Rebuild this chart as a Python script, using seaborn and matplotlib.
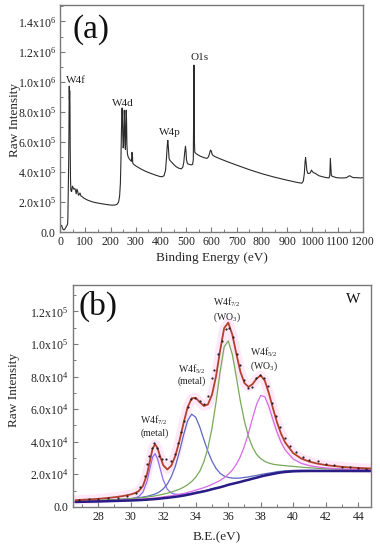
import numpy as np
import pandas as pd
import matplotlib
matplotlib.use("Agg")
import matplotlib.pyplot as plt
import seaborn as sns
from matplotlib.ticker import MultipleLocator, FuncFormatter

# ---------------- data: (a) survey spectrum ----------------
survey_be = [0, 3, 6, 9, 12, 16, 20, 24, 28, 30, 31, 32, 33, 34.5, 35.5, 36.5, 37.3, 38.3, 39.3, 40.3,
             41.5, 43, 46, 49, 52, 55, 58, 61, 64, 67, 70, 73, 76, 79, 83, 88, 95, 110, 130, 150,
             170, 190, 205, 218, 226, 232, 236, 239, 241, 243, 245, 246, 247, 248.5, 250, 251.5, 253, 254.5, 256, 257.5,
             259, 260.5, 262, 263.5, 265, 267, 270, 275, 280, 283, 285, 286.5, 288, 292, 300, 320, 340, 360, 380, 395,
             405, 412, 418, 422, 425, 427, 429, 432, 436, 442, 450, 460, 470, 480, 486, 490, 494, 497, 499, 501,
             505, 512, 520, 525, 528, 529.5, 530.5, 531.5, 532.5, 534, 537, 540, 545, 555, 570, 582, 588, 592, 596, 599,
             603, 610, 630, 660, 700, 750, 800, 850, 900, 940, 958, 964, 968, 971, 973, 975, 978, 982, 987, 992,
             996, 999, 1004, 1012, 1025, 1040, 1055, 1066, 1069, 1071, 1073, 1075, 1080, 1095, 1110, 1125, 1135, 1142, 1148, 1154,
             1162, 1175, 1190, 1200]
survey_int_1e5 = [0.30, 0.42, 0.45, 0.30, 0.18, 0.15, 0.22, 0.35, 0.45, 0.55, 0.9, 2.0, 3.2, 5.0, 8.0, 9.7, 8.8, 9.4, 8.6, 5.5,
                  3.5, 2.75, 2.7, 3.05, 2.95, 2.85, 2.9, 2.8, 2.55, 2.85, 2.7, 2.45, 2.5, 2.6, 2.4, 2.35, 2.25, 2.12, 2.0, 1.93,
                  1.87, 1.82, 1.79, 1.8, 1.85, 2.0, 2.4, 3.2, 4.5, 6.5, 8.0, 8.25, 7.8, 6.5, 5.6, 5.7, 6.8, 8.1, 7.4, 5.9,
                  5.5, 6.6, 8.1, 7.5, 5.8, 5.2, 5.0, 4.85, 4.75, 4.7, 5.3, 5.2, 4.6, 4.5, 4.4, 4.2, 4.03, 3.9, 3.78, 3.7,
                  3.68, 3.75, 4.1, 5.0, 5.8, 6.1, 5.7, 4.9, 4.75, 4.65, 4.5, 4.35, 4.25, 4.2, 4.3, 4.6, 5.3, 5.7, 5.4, 4.8,
                  4.55, 4.5, 4.47, 4.5, 4.8, 8.0, 11.1, 9.5, 6.0, 5.3, 5.25, 5.2, 5.15, 5.05, 4.95, 4.9, 5.0, 5.2, 5.45, 5.4,
                  5.15, 5.05, 4.9, 4.7, 4.45, 4.15, 3.88, 3.65, 3.45, 3.3, 3.25, 3.4, 3.9, 4.7, 4.95, 4.6, 4.1, 3.9, 3.9, 3.95,
                  4.12, 4.05, 3.95, 3.9, 3.75, 3.68, 3.62, 3.6, 3.8, 4.9, 4.3, 3.75, 3.7, 3.62, 3.6, 3.6, 3.62, 3.7, 3.75, 3.68,
                  3.62, 3.62, 3.6, 3.62]
survey_labels = ["W4f", "W4d", "W4p", "O1s"]
survey_label_be = [62, 248, 437, 553]
survey_label_int = [1.01e6, 8.58e5, 6.62e5, 1.158e6]

# ---------------- data: (b) W4f high-resolution fit ----------------
be = [26.6, 27, 27.5, 28, 28.5, 29, 29.5, 30, 30.25, 30.5, 30.75, 31, 31.2, 31.35, 31.5, 31.65, 31.8,
      32, 32.25, 32.5, 32.75, 33, 33.25, 33.5, 33.75, 34, 34.25, 34.5, 34.75, 35, 35.25, 35.5, 35.75,
      36, 36.25, 36.5, 36.75, 37, 37.25, 37.5, 37.75, 38, 38.25, 38.5, 38.75, 39, 39.25, 39.5,
      40, 40.5, 41, 41.5, 42, 42.5, 43, 43.5, 44, 44.8]
background = [3000, 3100, 3200, 3300, 3450, 3600, 3750, 3900, 4000, 4100, 4250, 4400, 4550, 4650, 4750, 4900, 5050,
              5300, 5550, 5850, 6150, 6500, 6900, 7400, 7900, 8500, 9000, 9500, 10100, 10800, 11400, 12000, 12700,
              13500, 14100, 14700, 15300, 16000, 16600, 17300, 17900, 18600, 19200, 19700, 20200, 20700, 21100, 21400,
              21800, 21950, 22000, 22000, 22000, 22000, 22000, 22000, 22000, 22000]
metal_72 = [94, 112, 141, 182, 252, 356, 560, 969, 1380, 2270, 4790, 11260, 19820, 25990, 27890, 24600, 18750,
            11190, 5250, 2600, 1600, 1130, 840, 660, 525, 430, 357, 302, 259, 224, 196, 172, 153,
            137, 124, 111, 101, 92, 84, 78, 72, 66, 61, 57, 53, 50, 47, 44,
            39, 35, 31, 28, 25, 23, 21, 19, 18, 15]
metal_52 = [327, 367, 428, 503, 600, 729, 904, 1150, 1310, 1505, 1750, 2060, 2400, 2730, 3110, 3660, 4370,
            5730, 8410, 12690, 18890, 27500, 37200, 45500, 49000, 46500, 40000, 31800, 23900, 17300, 12200, 8600, 6170,
            4580, 3550, 2870, 2400, 2040, 1775, 1560, 1380, 1233, 1107, 997, 904, 823, 752, 691,
            588, 506, 440, 386, 342, 305, 273, 246, 222, 191]
wo3_72 = [454, 498, 561, 630, 717, 822, 953, 1120, 1215, 1326, 1458, 1602, 1738, 1850, 1975, 2118, 2261,
          2492, 2822, 3231, 3738, 4352, 5135, 6168, 7636, 9700, 12900, 18070, 25990, 37470, 52870, 70930, 85530,
          88380, 79570, 64880, 49480, 36490, 26430, 19220, 14240, 10990, 8720, 7150, 5990, 5100, 4420, 3860,
          3020, 2420, 1980, 1645, 1397, 1196, 1034, 905, 798, 660]
wo3_52 = [235, 252, 277, 302, 337, 372, 417, 469, 497, 532, 567, 610, 645, 672, 705, 735, 770,
          820, 890, 970, 1060, 1166, 1282, 1418, 1578, 1771, 2002, 2268, 2606, 3000, 3530, 4210, 5160,
          6510, 8460, 11410, 15610, 21360, 28730, 37210, 45210, 49750, 48400, 41920, 33430, 25280, 18610, 13580,
          7510, 4700, 3280, 2450, 1890, 1510, 1230, 1015, 858, 670]
raw_be = [26.8, 27.4, 28.0, 28.6, 29.2, 29.8, 30.3, 30.6, 30.85, 31.0, 31.15, 31.3, 31.45, 31.6, 31.75, 31.95,
          32.2, 32.45, 32.7, 32.9, 33.1, 33.3, 33.5, 33.7, 33.95, 34.25, 34.5, 34.75, 35.0, 35.15, 35.4, 35.6,
          35.85, 36.05, 36.3, 36.55, 36.75, 36.95, 37.2, 37.45, 37.7, 37.95, 38.2, 38.45, 38.7, 38.95, 39.2, 39.5,
          39.8, 40.2, 40.6, 41.0, 41.5, 42.0, 42.5, 43.0, 43.5, 44.0, 44.5]
raw_int = [4500, 4800, 5000, 5300, 5600, 6600, 8500, 12000, 19000, 26000, 31000, 36000, 39000, 36000, 31000, 29500,
           29500, 28000, 32500, 39000, 46000, 53000, 61000, 66500, 67000, 65000, 63000, 68000, 79000, 84000, 94000, 102000,
           109000, 110000, 104000, 94000, 87000, 78000, 73000, 73500, 79000, 81000, 79000, 74000, 64000, 56000, 49000, 42500,
           37500, 33500, 30500, 29000, 28000, 26500, 25500, 24700, 24200, 23800, 23500]
peak_labels = ["W4f$_{7/2}$\n(metal)", "W4f$_{5/2}$\n(metal)", "W4f$_{7/2}$\n(WO$_3$)", "W4f$_{5/2}$\n(WO$_3$)"]
peak_label_be = [31.45, 33.75, 35.92, 38.2]
peak_label_int = [4.97e4, 8.15e4, 1.21e5, 9.05e4]

# ---------------- style ----------------
sns.set_style("ticks")
plt.rcParams['font.family'] = ['Liberation Serif', 'DejaVu Serif']
plt.rcParams['mathtext.fontset'] = 'custom'
plt.rcParams['mathtext.rm'] = 'Liberation Serif'
plt.rcParams['mathtext.it'] = 'Liberation Serif:italic'
plt.rcParams['mathtext.bf'] = 'Liberation Serif:bold'

SPINE = '#7a7a7a'


def sci(v, pos):
    if abs(v) < 1e-9:
        return "0.0"
    e = int(np.floor(np.log10(abs(v)) + 1e-9))
    m = v / 10 ** e
    return f"{m:.1f}x10$^{{{e}}}$"


def style_axes(ax):
    for s in ax.spines.values():
        s.set_color(SPINE)
        s.set_linewidth(1.0)
    ax.tick_params(which='both', direction='in', color=SPINE, top=False, right=False,
                   labelsize=8.5, labelcolor='#222222', pad=3)
    ax.tick_params(which='major', length=3.5, width=0.8)
    ax.tick_params(which='minor', length=2, width=0.7)
    ax.yaxis.set_major_formatter(FuncFormatter(sci))


fig = plt.figure(figsize=(3.8, 5.5), dpi=100)
ax1 = fig.add_axes([0.158, 0.578, 0.797, 0.413])
ax2 = fig.add_axes([0.191, 0.0776, 0.785, 0.4042])

# ---------------- (a) ----------------
dfa = pd.DataFrame({"be": survey_be, "I": np.array(survey_int_1e5) * 1e5})
sns.lineplot(data=dfa, x="be", y="I", ax=ax1, color='#2b2b2b', lw=0.8, sort=False, estimator=None)
ax1.set_xlim(0, 1200)
ax1.set_ylim(0, 1.51e6)
ax1.xaxis.set_major_locator(MultipleLocator(100))
ax1.xaxis.set_minor_locator(MultipleLocator(50))
ax1.yaxis.set_major_locator(MultipleLocator(2e5))
ax1.yaxis.set_minor_locator(MultipleLocator(1e5))
style_axes(ax1)
ax1.set_xlabel("Binding Energy (eV)", fontsize=9.5)
ax1.set_ylabel("Raw Intensity", fontsize=9.5)
ax1.xaxis.set_label_coords(0.5, -0.088)
ax1.yaxis.set_label_coords(-0.13, 0.493)
for t, x, y in zip(survey_labels, survey_label_be, survey_label_int):
    ax1.text(x, y, t, fontsize=8, ha='center', va='center', color='#222222')
ax1.text(121, 1.347e6, "(a)", fontsize=24, ha='center', va='center', color='#111111')

# ---------------- (b) ----------------
bg = np.array(background, dtype=float)
comps = [np.array(c, dtype=float) for c in (metal_72, metal_52, wo3_72, wo3_52)]
envelope = bg + sum(comps)
dfb = pd.DataFrame({"be": be, "bg": bg, "env": envelope,
                    "m72": bg + comps[0], "m52": bg + comps[1],
                    "w72": bg + comps[2], "w52": bg + comps[3]})

sns.lineplot(data=dfb, x="be", y="env", ax=ax2, color='#ffa8e6', lw=7, alpha=0.25,
             sort=False, estimator=None)
comp_cols = [("m72", '#8c6cf2'), ("m52", '#5b68c2'), ("w72", '#78a85a'), ("w52", '#d66ae6')]
for col, c in comp_cols:
    sns.lineplot(data=dfb, x="be", y=col, ax=ax2, color=c, lw=0.9, sort=False, estimator=None)
sns.lineplot(data=dfb, x="be", y="bg", ax=ax2, color='#2a1c86', lw=1.8, sort=False, estimator=None)
sns.lineplot(data=dfb, x="be", y="env", ax=ax2, color='#b2402c', lw=1.3, sort=False, estimator=None)
dfr = pd.DataFrame({"be": raw_be, "I": raw_int})
sns.scatterplot(data=dfr, x="be", y="I", ax=ax2, color='#222222', s=2.5, linewidth=0, zorder=5)

ax2.set_xlim(26.42, 44.78)
ax2.set_ylim(-300, 1.362e5)
ax2.xaxis.set_major_locator(MultipleLocator(2))
ax2.xaxis.set_minor_locator(MultipleLocator(1))
ax2.yaxis.set_major_locator(MultipleLocator(2e4))
ax2.yaxis.set_minor_locator(MultipleLocator(1e4))
style_axes(ax2)
ax2.set_xlabel("B.E.(eV)", fontsize=9.5)
ax2.set_ylabel("Raw Intensity", fontsize=9.5)
ax2.xaxis.set_label_coords(0.483, -0.107)
ax2.yaxis.set_label_coords(-0.177, 0.528)
for t, x, y in zip(peak_labels, peak_label_be, peak_label_int):
    ax2.text(x, y, t, fontsize=7, ha='center', va='center', color='#222222', linespacing=1.1)
ax2.text(27.97, 1.229e5, "(b)", fontsize=24, ha='center', va='center', color='#111111')
ax2.text(43.7, 1.27e5, "W", fontsize=11, ha='center', va='center', color='#111111')

fig.savefig("out.png", dpi=100)
